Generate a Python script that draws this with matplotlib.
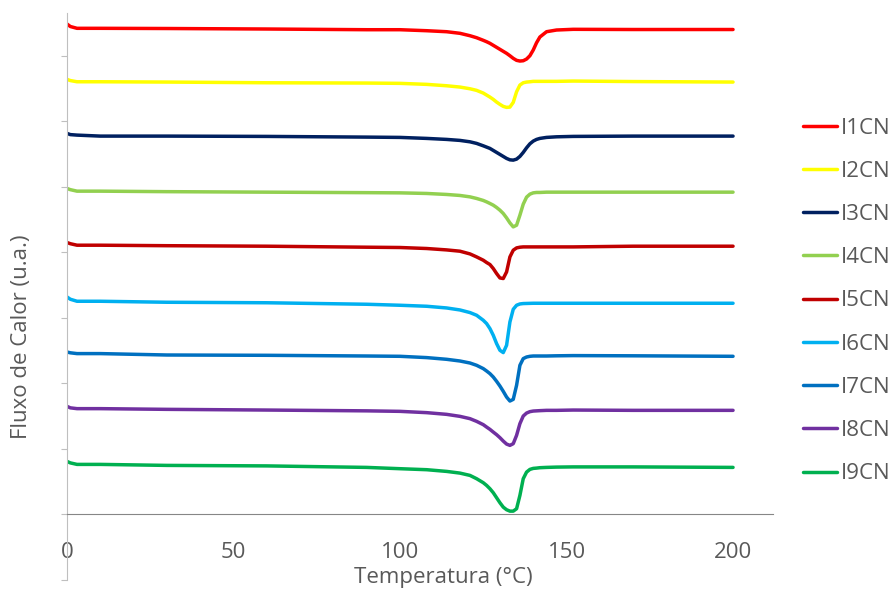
import matplotlib.pyplot as plt
from matplotlib.ticker import MultipleLocator

plt.rcParams['font.family'] = ['Open Sans', 'DejaVu Sans']

# temperatura (C) e fluxo de calor (u.a., curvas deslocadas)
temperatura = [0, 1, 3, 10, 30, 60, 90, 100, 108, 114, 118, 121, 123, 125,
               126, 127, 128, 129, 130, 131, 132, 133, 134, 135, 136, 137, 138,
               139, 140, 141, 142, 144, 147, 152, 170, 200]

i1cn = [490, 487.5, 485.7, 485.7, 485.5, 485, 484.3, 484.3, 483.3, 482.3, 480.7, 478.3, 476.3, 473.7,
        472.3, 470.7, 468.7, 466.7, 464.7, 462.7, 460.7, 458.3, 455.7, 453.7, 453, 453.3, 455,
        458.3, 464, 471.3, 477, 482.3, 484, 484.7, 484.5, 484.5]
i2cn = [434.7, 433.5, 432.3, 432.3, 432, 431.3, 431, 430.7, 429.7, 428.3, 427, 425.3, 423.7, 421,
        419, 417, 414.7, 412, 409.7, 407.7, 406.7, 407, 411.7, 422.3, 429, 431.3, 432,
        432.3, 432.7, 432.7, 432.7, 432.7, 432.7, 433, 432.5, 432]
i3cn = [380.7, 379.5, 379, 378, 378, 377.7, 377, 376.7, 375.7, 374.7, 373.7, 372.3, 370.7, 368.3,
        367, 365.7, 363.7, 361.7, 359.7, 357.7, 355.7, 354.3, 354, 355, 357.7, 361.7, 366.3,
        370.3, 373, 374.7, 375.7, 376.7, 377.3, 377.7, 378, 378]
i4cn = [325.7, 324.5, 323, 323, 322.5, 322, 321.5, 321.3, 320.7, 319.7, 318.7, 317.3, 315.7, 313.7,
        312.3, 310.7, 309, 306.7, 304, 300.7, 296.3, 291.3, 287.3, 289, 299, 310, 317,
        320, 321.3, 321.7, 321.7, 322, 322, 322, 322, 322]
i5cn = [271.7, 270.5, 269, 269, 268.5, 268, 267, 266.7, 265.7, 264.3, 263, 260.3, 257.3, 254,
        251.7, 249.7, 245.7, 240.7, 236.3, 235.7, 242.3, 257.3, 264, 266.3, 267, 267.3, 267.3,
        267.3, 267.3, 267.3, 267.3, 267.3, 267.3, 267.3, 268, 268]
i6cn = [217.3, 215, 213, 213, 212, 211.5, 210, 209, 208, 206.3, 204.3, 201.7, 199, 194,
        190.7, 185.7, 179, 170.7, 164, 161.7, 169, 192.3, 205, 209, 210.3, 210.7, 210.8,
        210.9, 211, 211, 211, 211, 211, 211, 211, 211]
i7cn = [162.3, 161.5, 160.7, 160.7, 159.3, 159, 158.3, 158, 156.7, 155, 153.3, 151.3, 149, 145.7,
        143.3, 140.7, 137.3, 133, 128.3, 123, 117.3, 113.3, 115, 129, 149, 155.7, 157.3,
        158, 158.3, 158.3, 158.3, 158.3, 158.5, 158.7, 158.5, 158]
i8cn = [108, 106.5, 105.7, 105.7, 105, 104.3, 103.5, 103, 101.7, 100, 98, 95.7, 93, 89.7,
        87.3, 85, 82.3, 79.7, 76.7, 73.3, 70.3, 69, 70.7, 79, 90.7, 98.3, 101.3,
        102.7, 103.3, 103.5, 103.7, 104, 104, 104.3, 104, 104]
i9cn = [53, 51.5, 50, 50, 49, 48.5, 47, 45.7, 44.7, 43, 41.3, 39, 35.7, 31.7,
        29, 25.7, 21.7, 16.7, 11.7, 7.3, 4.7, 3.3, 3.3, 5.7, 19, 35.7, 42.3,
        45, 46, 46.3, 46.7, 47, 47.3, 47.5, 47.5, 47]

nomes = ['I1CN', 'I2CN', 'I3CN', 'I4CN', 'I5CN', 'I6CN', 'I7CN', 'I8CN', 'I9CN']
curvas = [i1cn, i2cn, i3cn, i4cn, i5cn, i6cn, i7cn, i8cn, i9cn]
cores = ['#FF0000', '#FFFF00', '#002060', '#92D050', '#C00000',
         '#00B0F0', '#0070C0', '#7030A0', '#00B050']

fig = plt.figure(figsize=(8.9, 5.92), dpi=100)
ax = fig.add_axes([67 / 890, 1 - 580 / 592, (773 - 67) / 890, (580 - 13) / 592])

for nome, valores, cor in zip(nomes, curvas, cores):
    ax.plot(temperatura, valores, color=cor, lw=2.5, label=nome,
            solid_joinstyle='round', solid_capstyle='round')

ax.set_xlim(0, 212)
ax.set_ylim(-65.5, 501)
ax.spines['top'].set_visible(False)
ax.spines['right'].set_visible(False)
ax.spines['bottom'].set_position(('data', 0))
ax.spines['bottom'].set_color('#868686')
ax.spines['left'].set_color('#BFBFBF')

ax.set_xticks([0, 50, 100, 150, 200])
ax.tick_params(axis='x', length=0, pad=20, labelsize=16, labelcolor='#595959')
ax.yaxis.set_major_locator(MultipleLocator(65.5))
ax.tick_params(axis='y', length=4, color='#BFBFBF', labelleft=False)

fig.text(443.5 / 890, 1 - 578 / 592, 'Temperatura (°C)', ha='center', va='center',
         fontsize=16, color='#595959')
fig.text(22 / 890, 1 - 337 / 592, 'Fluxo de Calor (u.a.)', ha='center', va='center',
         rotation=90, fontsize=16, color='#595959')

ax.legend(loc='center left', bbox_to_anchor=(803 / 890, 1 - 301 / 592),
          bbox_transform=fig.transFigure, frameon=False, fontsize=16,
          labelcolor='#595959', handlelength=1.55, handletextpad=0.15,
          labelspacing=1.0, borderpad=0, borderaxespad=0)

fig.savefig('out.png', dpi=100)
